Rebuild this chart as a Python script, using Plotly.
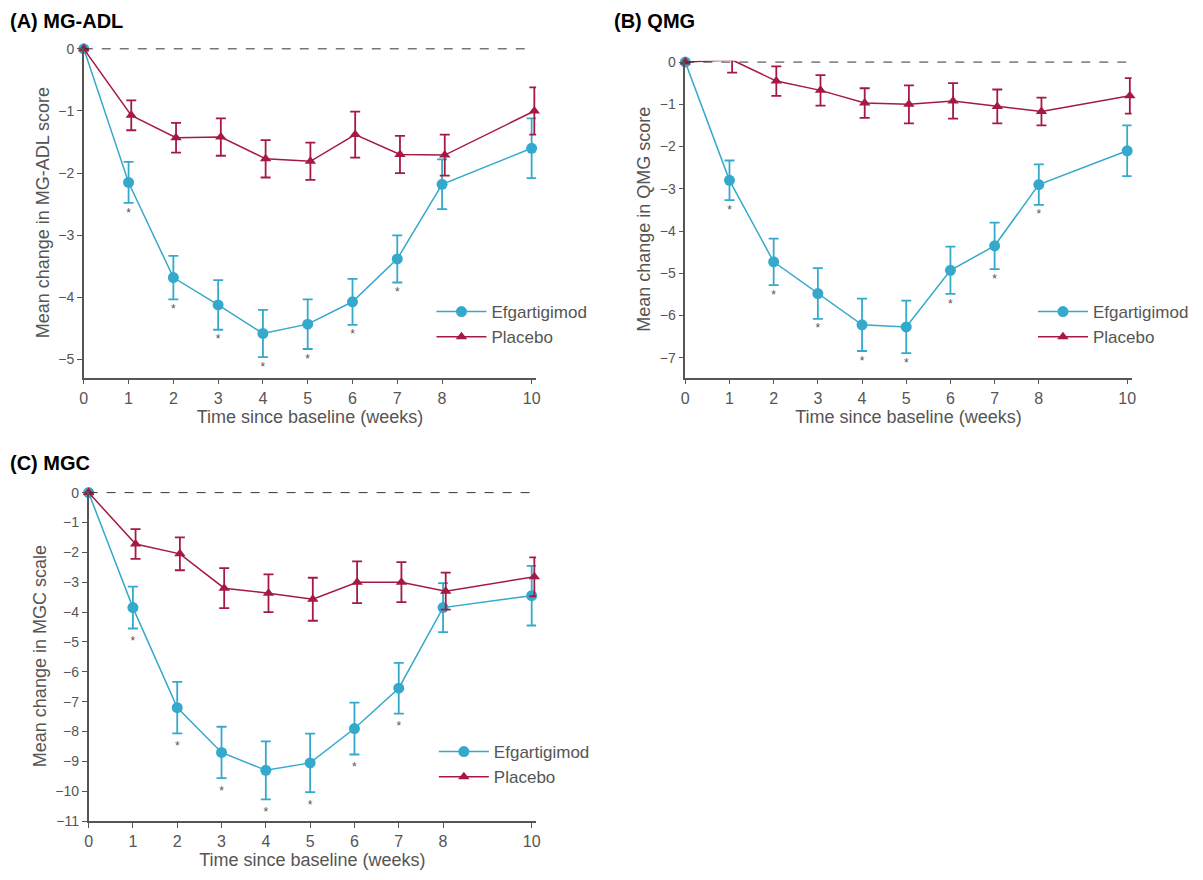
import plotly.graph_objects as go

weeks = [0, 1, 2, 3, 4, 5, 6, 7, 8, 10]

# (A) MG-ADL
adl_efg = [0, -2.15, -3.68, -4.12, -4.58, -4.43, -4.07, -3.38, -2.18, -1.6]
adl_efg_err = [0, 0.33, 0.35, 0.4, 0.38, 0.4, 0.37, 0.38, 0.4, 0.48]
adl_pbo = [0, -1.07, -1.43, -1.42, -1.77, -1.81, -1.38, -1.7, -1.71, -1.0]
adl_pbo_err = [0, 0.24, 0.24, 0.3, 0.3, 0.3, 0.37, 0.3, 0.33, 0.38]
adl_star = [1, 2, 3, 4, 5, 6, 7]

# (B) QMG
qmg_efg = [0, -2.8, -4.73, -5.48, -6.22, -6.27, -4.93, -4.35, -2.9, -2.1]
qmg_efg_err = [0, 0.47, 0.55, 0.6, 0.62, 0.62, 0.56, 0.55, 0.48, 0.6]
qmg_pbo = [0, 0.05, -0.45, -0.67, -0.97, -1.0, -0.92, -1.05, -1.17, -0.8]
qmg_pbo_err = [0, 0.3, 0.35, 0.36, 0.35, 0.45, 0.42, 0.4, 0.33, 0.42]
qmg_star = [1, 2, 3, 4, 5, 6, 7, 8]

# (C) MGC
mgc_efg = [0, -3.85, -7.2, -8.7, -9.3, -9.05, -7.9, -6.55, -3.85, -3.45]
mgc_efg_err = [0, 0.7, 0.86, 0.86, 0.97, 0.98, 0.87, 0.85, 0.82, 1.0]
mgc_pbo = [0, -1.72, -2.05, -3.2, -3.37, -3.57, -3.0, -3.0, -3.3, -2.82]
mgc_pbo_err = [0, 0.5, 0.55, 0.67, 0.63, 0.72, 0.7, 0.67, 0.62, 0.65]
mgc_star = [1, 2, 3, 4, 5, 6, 7]

EFG = "#35a9cc"
PBO = "#a51a42"
GREY = "#555555"
FONT = "Liberation Sans"

# page body margin offsets the figure a little; compensate
DX, DY = -0.006, 0.010

panels = [
    dict(title="(A) MG-ADL", ylab="Mean change in MG-ADL score", efg=adl_efg, efg_err=adl_efg_err,
         pbo=adl_pbo, pbo_err=adl_pbo_err, stars=adl_star, star_off=0.17,
         xd=[0.069, 0.445], yd=[0.570, 0.945], yr=[-5.29, 0.02],
         leg=(0.358, 0.665), tx=0.0, ty=1.0),
    dict(title="(B) QMG", ylab="Mean change in QMG score", efg=qmg_efg, efg_err=qmg_efg_err,
         pbo=qmg_pbo, pbo_err=qmg_pbo_err, stars=qmg_star, star_off=0.25,
         xd=[0.569, 0.940], yd=[0.570, 0.930], yr=[-7.47, 0.03],
         leg=(0.858, 0.665), tx=0.502, ty=1.0),
    dict(title="(C) MGC", ylab="Mean change in MGC scale", efg=mgc_efg, efg_err=mgc_efg_err,
         pbo=mgc_pbo, pbo_err=mgc_pbo_err, stars=mgc_star, star_off=0.45,
         xd=[0.073, 0.445], yd=[0.066, 0.441], yr=[-11, 0.05],
         leg=(0.36, 0.165), tx=0.0, ty=0.488),
]

fig = go.Figure()
layout = {}
for i, p in enumerate(panels):
    n = "" if i == 0 else str(i + 1)
    xa, ya = "x" + n, "y" + n
    lg = "legend" + n
    pbo_x = [w + 0.06 if w > 0 else w for w in weeks]
    fig.add_trace(go.Scatter(
        x=weeks, y=p["efg"], mode="lines+markers", name="Efgartigimod",
        line=dict(color=EFG, width=1.5), marker=dict(color=EFG, size=11, symbol="circle"),
        error_y=dict(type="data", array=p["efg_err"], color=EFG, thickness=1.8, width=5),
        xaxis=xa, yaxis=ya, legend=lg, cliponaxis=False))
    fig.add_trace(go.Scatter(
        x=pbo_x, y=p["pbo"], mode="lines+markers", name="Placebo",
        line=dict(color=PBO, width=1.5), marker=dict(color=PBO, size=10, symbol="triangle-up"),
        error_y=dict(type="data", array=p["pbo_err"], color=PBO, thickness=1.8, width=5),
        xaxis=xa, yaxis=ya, legend=lg, cliponaxis=False))
    sy = [p["efg"][weeks.index(w)] - p["efg_err"][weeks.index(w)] - p["star_off"] for w in p["stars"]]
    fig.add_trace(go.Scatter(
        x=p["stars"], y=sy, mode="text", text=["*"] * len(sy), showlegend=False,
        textfont=dict(color=GREY, size=12, family=FONT), xaxis=xa, yaxis=ya))
    fig.add_trace(go.Scatter(
        x=[0, 10], y=[0, 0], mode="lines", showlegend=False, hoverinfo="skip",
        line=dict(color="#333333", width=1, dash="dash"), xaxis=xa, yaxis=ya))
    layout["xaxis" + n] = dict(
        domain=[p["xd"][0] + DX, p["xd"][1] + DX], anchor=ya, range=[0, 10.1], tickvals=weeks,
        showgrid=False, zeroline=False,
        automargin=False, showline=True, linecolor=GREY, linewidth=1.5, ticks="outside", ticklen=5,
        tickcolor=GREY, tickfont=dict(size=16, color=GREY, family=FONT),
        title=dict(text="Time since baseline (weeks)", font=dict(size=18, color=GREY, family=FONT), standoff=2))
    layout["yaxis" + n] = dict(
        domain=[p["yd"][0] + DY, min(1, p["yd"][1] + DY)], anchor=xa, range=p["yr"], dtick=1,
        showgrid=False, zeroline=False,
        automargin=False, showline=True, linecolor=GREY, linewidth=1.5, ticks="outside", ticklen=5,
        tickcolor=GREY, tickfont=dict(size=14, color=GREY, family=FONT),
        title=dict(text=p["ylab"], font=dict(size=18, color=GREY, family=FONT), standoff=4))
    layout[lg] = dict(x=p["leg"][0] + DX, y=p["leg"][1] + DY, xanchor="left", yanchor="top",
                      bgcolor="rgba(0,0,0,0)", font=dict(size=17, color=GREY, family=FONT),
                      tracegroupgap=8, itemwidth=50)
    fig.add_annotation(text="<b>" + p["title"] + "</b>", x=p["tx"], y=min(1, p["ty"] + DY),
                       xref="paper", yref="paper",
                       xanchor="left", yanchor="top", showarrow=False,
                       font=dict(size=20, color="black", family=FONT))

fig.update_layout(width=1203, height=880, margin=dict(l=0, r=0, t=0, b=0),
                  plot_bgcolor="white", paper_bgcolor="white", **layout)
fig.write_html("out.html")
